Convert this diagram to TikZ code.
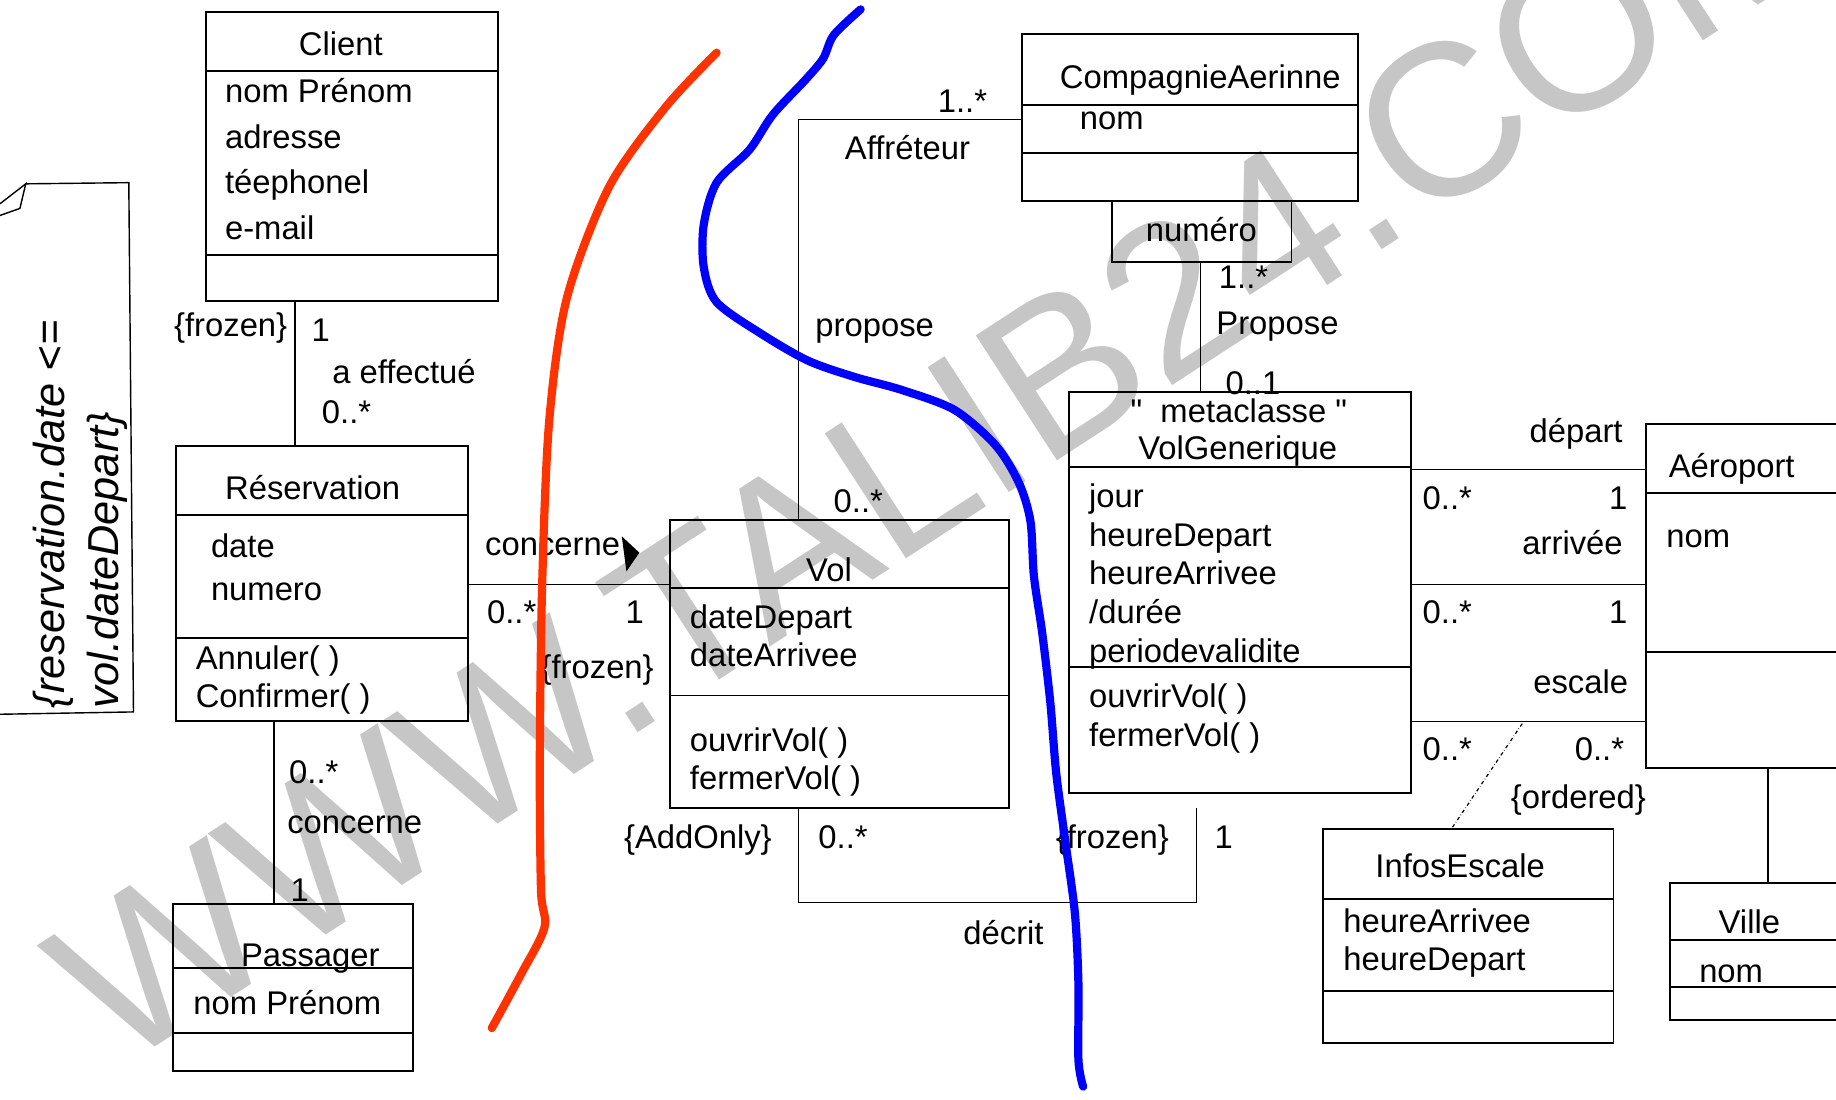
\documentclass[tikz,border=0pt]{standalone}
\usepackage{fontspec}
\setmainfont{Liberation Sans}[Ligatures=TeXOff]
\usetikzlibrary{fit}

\definecolor{redpen}{RGB}{255,51,0}
\definecolor{bluepen}{RGB}{0,0,255}

\tikzset{
  box/.style={draw,line width=1.6pt,inner sep=0pt},
  sep/.style={line width=1.6pt},
  assoc/.style={line width=1.2pt},
  lbl/.style={inner sep=0pt,yshift=-7pt,text height=0.75em,text depth=0.25em,font=\fontsize{28}{33}\selectfont},
  attr/.style={lbl,anchor=west},
  notetext/.style={inner sep=0pt,text height=0.75em,text depth=0.25em,anchor=west,rotate=90,font=\fontsize{37}{46}\selectfont\itshape},
  pen/.style={line width=7pt,line cap=round,line join=round},
}

\newcommand{\classbox}[5]{\node[box,fit={(#2,#3) (#4,#5)}] (#1) {};}

\begin{document}
\begin{tikzpicture}[x=1pt,y=-1pt]
\useasboundingbox (0,0) rectangle (1568,939);
\clip (0,0) rectangle (1568,939);

\node[rotate=33,anchor=base west,inner sep=0pt,text=gray!45,font=\fontsize{185}{185}\selectfont] (wm) at (100,915) {WWW.TALIB24.COM};

% note
\draw[line width=1.2pt] (22,157) -- (110,156) -- (114,608) -- (0,610);
\draw[line width=1.2pt] (0,174) -- (22,157) -- (17,178) -- (0,184);
\node[notetext] (note1) at (53,605) {\{reservation.date <=};
\node[notetext] (note2) at (99,605) {vol.dateDepart\}};

% Client
\classbox{client}{176}{10}{425}{257}
\draw[sep] (client.west |- 0,61) -- (client.east |- 0,61);
\draw[sep] (client.west |- 0,218) -- (client.east |- 0,218);
\node[lbl] (client-n) at (291,38) {Client};
\foreach \t [count=\i] in {nom Prénom,adresse,téephonel,e-mail}
  \node[attr] (client-a\i) at (192,{78+39*(\i-1)}) {\t};

% Reservation
\classbox{resa}{150}{381}{400}{616}
\draw[sep] (resa.west |- 0,440) -- (resa.east |- 0,440);
\draw[sep] (resa.west |- 0,545) -- (resa.east |- 0,545);
\node[lbl] (resa-n) at (267,417) {Réservation};
\node[attr] (resa-a1) at (180,467) {date};
\node[attr] (resa-a2) at (180,503) {numero};
\node[attr] (resa-o1) at (167,562) {Annuler( )};
\node[attr] (resa-o2) at (167,595) {Confirmer( )};

\draw[assoc] (client.south -| 252,0) -- (resa.north -| 252,0);
\node[lbl] (cr-c) at (197,278) {\{frozen\}};
\node[lbl] (cr-m1) at (274,282) {1};
\node[lbl] (cr-n) at (345,318) {a effectué};
\node[lbl] (cr-m2) at (296,352) {0..*};

% Passager
\classbox{pass}{148}{772}{353}{915}
\draw[sep] (pass.west |- 0,827) -- (pass.east |- 0,827);
\draw[sep] (pass.west |- 0,882) -- (pass.east |- 0,882);
\node[lbl] (pass-n) at (265,816) {Passager};
\node[attr] (pass-a1) at (165,857) {nom Prénom};

\draw[assoc] (resa.south -| 234,0) -- (pass.north -| 234,0);
\node[lbl] (rp-m1) at (268,660) {0..*};
\node[lbl] (rp-n) at (303,702) {concerne};
\node[lbl] (rp-m2) at (256,760) {1};

% Vol
\classbox{vol}{572}{444}{862}{690}
\draw[sep] (vol.west |- 0,502) -- (vol.east |- 0,502);
\draw[sep] (vol.west |- 0,594) -- (vol.east |- 0,594);
\node[lbl] (vol-n) at (708,487) {Vol};
\node[attr] (vol-a1) at (589,527) {dateDepart};
\node[attr] (vol-a2) at (589,560) {dateArrivee};
\node[attr] (vol-o1) at (589,632) {ouvrirVol( )};
\node[attr] (vol-o2) at (589,665) {fermerVol( )};

\draw[assoc] (resa.east |- 0,499) -- (vol.west |- 0,499);
\node[lbl] (rv-n) at (472,465) {concerne};
\fill (531,458) -- (546,472) -- (535,488) -- cycle;
\node[lbl] (rv-m1) at (437,523) {0..*};
\node[lbl] (rv-m2) at (542,523) {1};
\node[lbl] (rv-c) at (510,570) {\{frozen\}};

% CompagnieAerinne
\classbox{comp}{873}{29}{1160}{172}
\draw[sep] (comp.west |- 0,90) -- (comp.east |- 0,90);
\draw[sep] (comp.west |- 0,131) -- (comp.east |- 0,131);
\node[lbl] (comp-n) at (1025,66) {CompagnieAerinne};
\node[attr] (comp-a1) at (922,101) {nom};
\classbox{qual}{950}{172}{1103}{224}
\node[lbl] (qual-n) at (1026,197) {numéro};

\draw[assoc] (vol.north -| 682,0) |- (comp.west |- 0,102);
\node[lbl] (vc-m1) at (733,428) {0..*};
\node[lbl] (vc-n) at (747,278) {propose};
\node[lbl] (vc-r) at (775,127) {Affréteur};
\node[lbl] (vc-m2) at (822,87) {1..*};

% VolGenerique
\classbox{volgen}{913}{335}{1205}{677}
\draw[sep] (volgen.west |- 0,399) -- (volgen.east |- 0,399);
\draw[sep] (volgen.west |- 0,570) -- (volgen.east |- 0,570);
\node[lbl] (volgen-s) at (1058,351) {"\ \ metaclasse "};
\node[lbl] (volgen-n) at (1057,383) {VolGenerique};
\foreach \t [count=\i] in {jour,heureDepart,heureArrivee,/durée,periodevalidite}
  \node[attr] (volgen-a\i) at (930,{424+33*(\i-1)}) {\t};
\node[attr] (volgen-o1) at (930,595) {ouvrirVol( )};
\node[attr] (volgen-o2) at (930,628) {fermerVol( )};

\draw[assoc] (qual.south -| 1025,0) -- (volgen.north -| 1025,0);
\node[lbl] (qv-m1) at (1062,237) {1..*};
\node[lbl] (qv-n) at (1091,276) {Propose};
\node[lbl] (qv-m2) at (1070,327) {0..1};

\coordinate (vg-foot) at (1022,690);
\draw[assoc] (vol.south -| 682,0) |- (vg-foot |- 0,771) -- (vg-foot);
\node[lbl] (vd-c1) at (596,715) {\{AddOnly\}};
\node[lbl] (vd-m1) at (720,715) {0..*};
\node[lbl] (vd-c2) at (950,715) {\{frozen\}};
\node[lbl] (vd-m2) at (1045,715) {1};
\node[lbl] (vd-n) at (857,797) {décrit};

% Aeroport
\classbox{aero}{1406}{362}{1590}{656}
\draw[sep] (aero.west |- 0,421) -- (aero.east |- 0,421);
\draw[sep] (aero.west |- 0,557) -- (aero.east |- 0,557);
\node[attr] (aero-n) at (1425,398) {Aéroport};
\node[attr] (aero-a1) at (1423,458) {nom};

\draw[assoc] (volgen.east |- 0,401) -- (aero.west |- 0,401);
\node[lbl] (dep-n) at (1346,368) {départ};
\node[lbl] (dep-m1) at (1236,426) {0..*};
\node[lbl] (dep-m2) at (1382,426) {1};
\draw[assoc] (volgen.east |- 0,499) -- (aero.west |- 0,499);
\node[lbl] (arr-n) at (1343,464) {arrivée};
\node[lbl] (arr-m1) at (1236,523) {0..*};
\node[lbl] (arr-m2) at (1382,523) {1};
\draw[assoc] (volgen.east |- 0,616) -- (aero.west |- 0,616);
\node[lbl] (esc-n) at (1350,583) {escale};
\node[lbl] (esc-m1) at (1236,640) {0..*};
\node[lbl] (esc-m2) at (1366,640) {0..*};
\node[lbl] (esc-c) at (1348,681) {\{ordered\}};

% InfosEscale
\classbox{infos}{1130}{708}{1378}{891}
\draw[sep] (infos.west |- 0,768) -- (infos.east |- 0,768);
\draw[sep] (infos.west |- 0,846) -- (infos.east |- 0,846);
\node[lbl] (infos-n) at (1247,740) {InfosEscale};
\node[attr] (infos-a1) at (1147,787) {heureArrivee};
\node[attr] (infos-a2) at (1147,819) {heureDepart};
\coordinate (esc-mid) at (1300,618);
\draw[dash dot,line width=1pt] (esc-mid) -- (infos.north -| 1240,0);

% Ville
\classbox{ville}{1426}{754}{1590}{871}
\draw[sep] (ville.west |- 0,803) -- (ville.east |- 0,803);
\draw[sep] (ville.west |- 0,843) -- (ville.east |- 0,843);
\node[lbl] (ville-n) at (1494,788) {Ville};
\node[attr] (ville-a1) at (1451,830) {nom};
\draw[assoc] (aero.south -| 1510,0) -- (ville.north -| 1510,0);

% pen strokes
\draw[pen,redpen] plot[smooth] coordinates {(420,878) (445,832) (465,792) (462,760) (461,650) (463,500) (469,360) (484,255) (520,160) (568,92) (612,45)};
\draw[pen,bluepen] plot[smooth] coordinates {(735,8) (712,30) (703,50) (688,68) (660,98) (640,128) (612,156) (601,192) (601,228) (612,258) (650,285) (690,308) (730,322) (770,333) (815,350) (850,380) (870,412) (880,445) (883,492) (890,540) (897,600) (902,660) (910,720) (918,780) (921,840) (921,905) (925,928)};
\end{tikzpicture}
\end{document}
